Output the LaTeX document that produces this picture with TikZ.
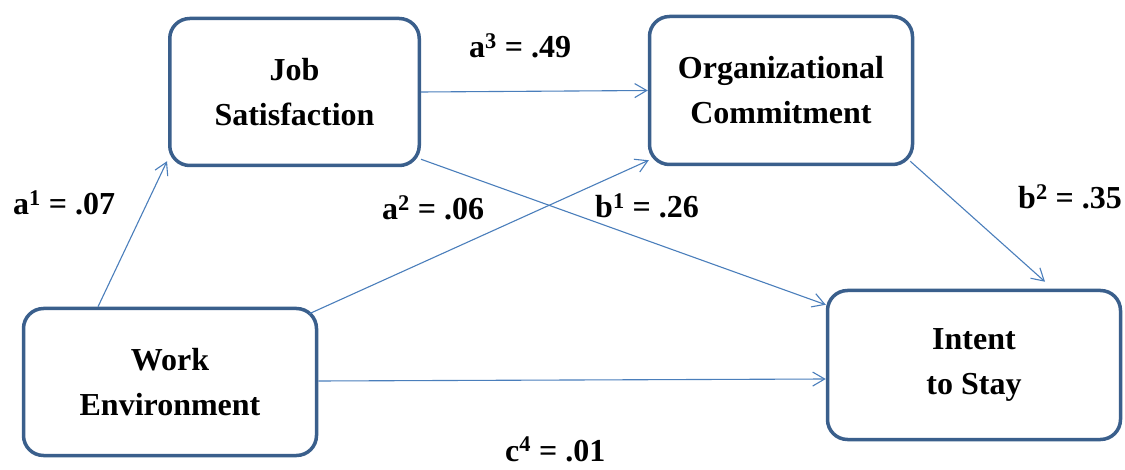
\documentclass[tikz,border=0pt]{standalone}
\usepackage{fontspec}
\setmainfont{Liberation Serif}
\usetikzlibrary{arrows.meta,calc}
\definecolor{boxline}{HTML}{3A5F8C}
\definecolor{arrowline}{HTML}{4A7EBB}
\begin{document}
\begin{tikzpicture}[x=1pt,y=-1pt,
  box/.style={draw=boxline, line width=3.5pt, rounded corners=20pt, fill=white, align=center, inner sep=0pt, font=\fontsize{32}{45}\selectfont\bfseries},
  conn/.style={draw=arrowline, line width=1.1pt, -{Straight Barb[length=12pt,width=14pt,line width=1.1pt]}},
  lbl/.style={anchor=base west, inner sep=0pt, font=\fontsize{32}{38}\selectfont\bfseries}]
\useasboundingbox (0,0) rectangle (1125,470);
\node[box, minimum width=249.5pt, minimum height=147pt] (js) at (294.5,92) {Job\\Satisfaction};
\node[box, minimum width=263pt, minimum height=148pt] (oc) at (781,90.5) {Organizational\\Commitment};
\node[box, minimum width=293pt, minimum height=147pt] (we) at (170,382) {Work\\Environment};
\node[box, minimum width=293pt, minimum height=149pt] (is) at (974,365) {Intent\\to Stay};

\draw[conn] ($(we.north)+(-72,0)$) -- ($(js.south west)+(-1,-6)$);
\draw[conn] ($(we.north east)+(-9,7)$) -- ($(oc.south west)+(1,-6)$);
\draw[conn] (js.east) -- (oc.west);
\draw[conn] ($(js.south east)+(0,-8)$) -- ($(is.north west)+(0,16)$);
\draw[conn] ($(oc.south east)+(-4,-5)$) -- ($(is.north)+(71,-7)$);
\draw[conn] ($(we.east)+(0,-1)$) -- ($(is.west)+(0,14)$);

\node[lbl] (l1) at (13,215) {a\textsuperscript{1} = .07};
\node[lbl] (l2) at (382,220) {a\textsuperscript{2} = .06};
\node[lbl] (l3) at (469,58) {a\textsuperscript{3} = .49};
\node[lbl] (l4) at (595,218) {b\textsuperscript{1} = .26};
\node[lbl] (l5) at (1018,209) {b\textsuperscript{2} = .35};
\node[lbl] (l6) at (505,461) {c\textsuperscript{4} = .01};
\end{tikzpicture}
\end{document}
